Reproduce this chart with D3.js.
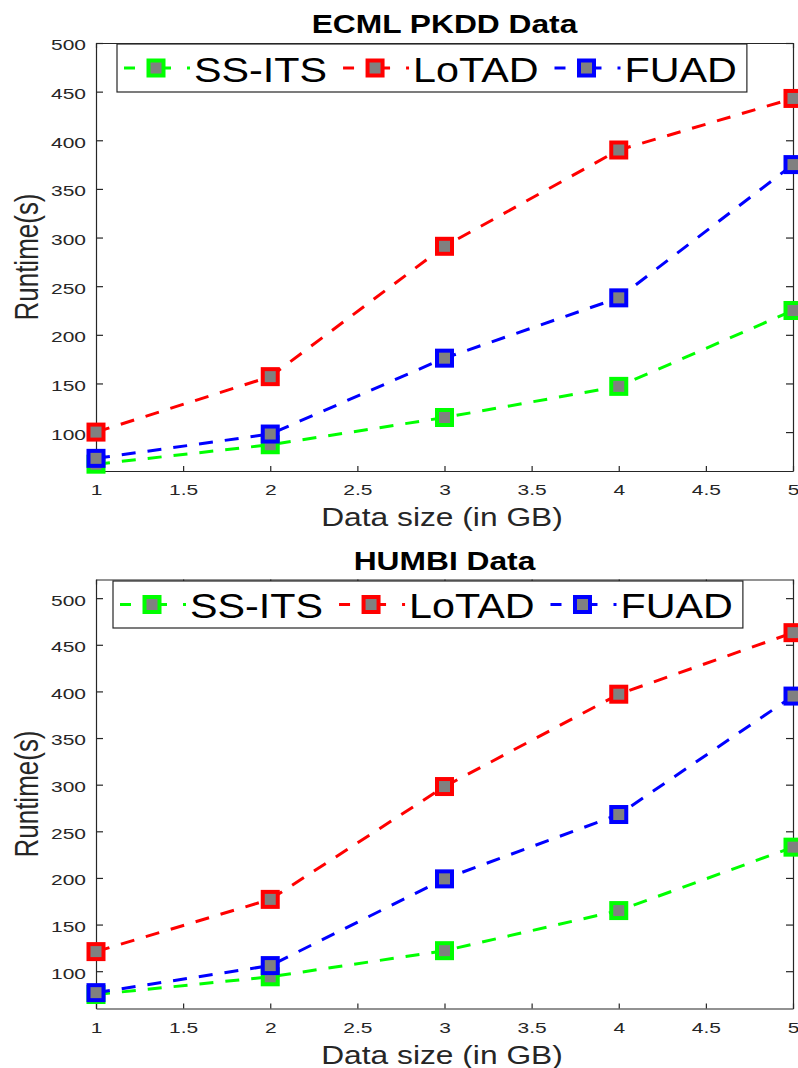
<!DOCTYPE html>
<html>
<head>
<meta charset="utf-8">
<script src="https://cdn.jsdelivr.net/npm/d3@7"></script>
<style>
    html, body { margin: 0; padding: 0; background: #ffffff; }
    svg { display: block; font-family: "Liberation Sans", Arial, sans-serif; }
</style>
</head>
<body>
<svg id="main" width="798" height="1068"></svg>
<script>
// Data
const sizesGB = [1, 2, 3, 4, 5];
const xTicks = [1, 1.5, 2, 2.5, 3, 3.5, 4, 4.5, 5];
const yTicks = [100, 150, 200, 250, 300, 350, 400, 450, 500];
const seriesNames = ['SS-ITS', 'LoTAD', 'FUAD'];
const seriesColors = ['#00ff00', '#ff0000', '#0000ff'];

const ecmlSSITS = [67, 87, 115, 147, 225];
const ecmlLoTAD = [100, 157, 291, 390, 443];
const ecmlFUAD = [73, 98, 176, 238, 375];

const humbiSSITS = [75, 94, 122, 165, 233];
const humbiLoTAD = [121, 177, 298, 397, 463];
const humbiFUAD = [77, 106, 199, 268, 395];

// Panel layout
const PANELS = [
    {
        title: 'ECML PKDD Data',
        series: [ecmlSSITS, ecmlLoTAD, ecmlFUAD],
        yDomain: [60, 500],
        top: 43, bottom: 471,
        titleY: 33, xLabelY: 526,
        legendX: 117, legendY: 44, legendH: 48
    },
    {
        title: 'HUMBI Data',
        series: [humbiSSITS, humbiLoTAD, humbiFUAD],
        yDomain: [60, 520],
        top: 579.5, bottom: 1008.5,
        titleY: 570, xLabelY: 1064,
        legendX: 113, legendY: 581, legendH: 47
    }
];

const LEFT = 96;
const RIGHT = 793;
const AXIS_COLOR = '#262626';
const MARKER_FILL = '#808080';

const svg = d3.select('svg#main');

// Text that is stretched horizontally like in the source figure
function stretchedText(g, x, y, str, opts) {
    const rot = opts.rotate ? ' rotate(-90)' : '';
    return g.append('text')
        .attr('transform', `translate(${x},${y}) scale(${opts.sx},1)${rot}`)
        .attr('text-anchor', opts.anchor || 'start')
        .attr('font-size', opts.size)
        .attr('font-weight', opts.weight || 'normal')
        .attr('fill', opts.fill || '#000000')
        .text(str);
}

function drawPanel(p) {
    const g = svg.append('g');

    const x = d3.scaleLinear().domain([1, 5]).range([LEFT, RIGHT]);
    const y = d3.scaleLinear().domain(p.yDomain).range([p.bottom, p.top]);

    // Axes (ticks inside, box on)
    const tickSx = 1.4;
    const bottomAxis = g.append('g')
        .attr('transform', `translate(0,${p.bottom})`)
        .call(d3.axisBottom(x).tickValues(xTicks).tickFormat(d => d)
            .tickSizeInner(-5).tickSizeOuter(0));
    bottomAxis.selectAll('text')
        .attr('y', 13.7)
        .attr('transform', `scale(${tickSx},1)`);

    const leftAxis = g.append('g')
        .attr('transform', `translate(${LEFT},0)`)
        .call(d3.axisLeft(y).tickValues(yTicks).tickFormat(d => d)
            .tickSizeInner(-7).tickSizeOuter(0));
    leftAxis.selectAll('text')
        .attr('x', -10 / tickSx)
        .attr('dy', '0.46em')
        .attr('transform', `scale(${tickSx},1)`);

    g.append('g')
        .attr('transform', `translate(0,${p.top})`)
        .call(d3.axisTop(x).tickValues(xTicks).tickFormat('')
            .tickSizeInner(-5).tickSizeOuter(0));

    g.append('g')
        .attr('transform', `translate(${RIGHT},0)`)
        .call(d3.axisRight(y).tickValues(yTicks).tickFormat('')
            .tickSizeInner(-7).tickSizeOuter(0));

    g.selectAll('.domain, .tick line')
        .attr('stroke', AXIS_COLOR)
        .attr('stroke-width', 1.2);
    g.selectAll('.tick text')
        .attr('font-size', 15)
        .attr('font-family', '"Liberation Sans", Arial, sans-serif')
        .attr('fill', AXIS_COLOR);

    // Lines and markers
    const line = d3.line()
        .x((d, i) => x(sizesGB[i]))
        .y(d => y(d));

    p.series.forEach((values, k) => {
        g.append('path')
            .datum(values)
            .attr('d', line)
            .attr('fill', 'none')
            .attr('stroke', seriesColors[k])
            .attr('stroke-width', 3)
            .attr('stroke-dasharray', '14,12');

        g.selectAll(null)
            .data(values)
            .enter()
            .append('rect')
            .attr('x', (d, i) => x(sizesGB[i]) - 7.5)
            .attr('y', d => y(d) - 7.5)
            .attr('width', 15)
            .attr('height', 15)
            .attr('fill', MARKER_FILL)
            .attr('stroke', seriesColors[k])
            .attr('stroke-width', 4);
    });

    // Title and labels
    stretchedText(g, (LEFT + RIGHT) / 2, p.titleY, p.title,
        { sx: 1.27, size: 25, weight: 'bold', anchor: 'middle' });
    stretchedText(g, 442, p.xLabelY, 'Data size (in GB)',
        { sx: 1.27, size: 25, anchor: 'middle', fill: AXIS_COLOR });
    stretchedText(g, 37.5, (p.top + p.bottom) / 2, 'Runtime(s)',
        { sx: 1.27, size: 26, anchor: 'middle', rotate: true, fill: AXIS_COLOR });

    // Legend
    const legend = g.append('g');
    const box = legend.append('rect')
        .attr('x', p.legendX)
        .attr('y', p.legendY)
        .attr('height', p.legendH)
        .attr('fill', '#ffffff')
        .attr('stroke', AXIS_COLOR)
        .attr('stroke-width', 1.2);

    const cy = p.legendY + p.legendH / 2;
    const legendSx = 1.18;
    let ex = p.legendX + 7;
    seriesNames.forEach((name, k) => {
        legend.append('line')
            .attr('x1', ex).attr('x2', ex + 66)
            .attr('y1', cy).attr('y2', cy)
            .attr('stroke', seriesColors[k])
            .attr('stroke-width', 3)
            .attr('stroke-dasharray', '11,12,24,16,3');
        legend.append('rect')
            .attr('x', ex + 32 - 7.5)
            .attr('y', cy - 7.5)
            .attr('width', 15)
            .attr('height', 15)
            .attr('fill', MARKER_FILL)
            .attr('stroke', seriesColors[k])
            .attr('stroke-width', 4);
        const t = stretchedText(legend, ex + 70, cy + 13.6, name,
            { sx: legendSx, size: 35 });
        const w = t.node().getComputedTextLength() * legendSx;
        ex = ex + 70 + w + 16;
    });
    box.attr('width', ex - 16 + 10 - p.legendX);
}

PANELS.forEach(drawPanel);
</script>
</body>
</html>
